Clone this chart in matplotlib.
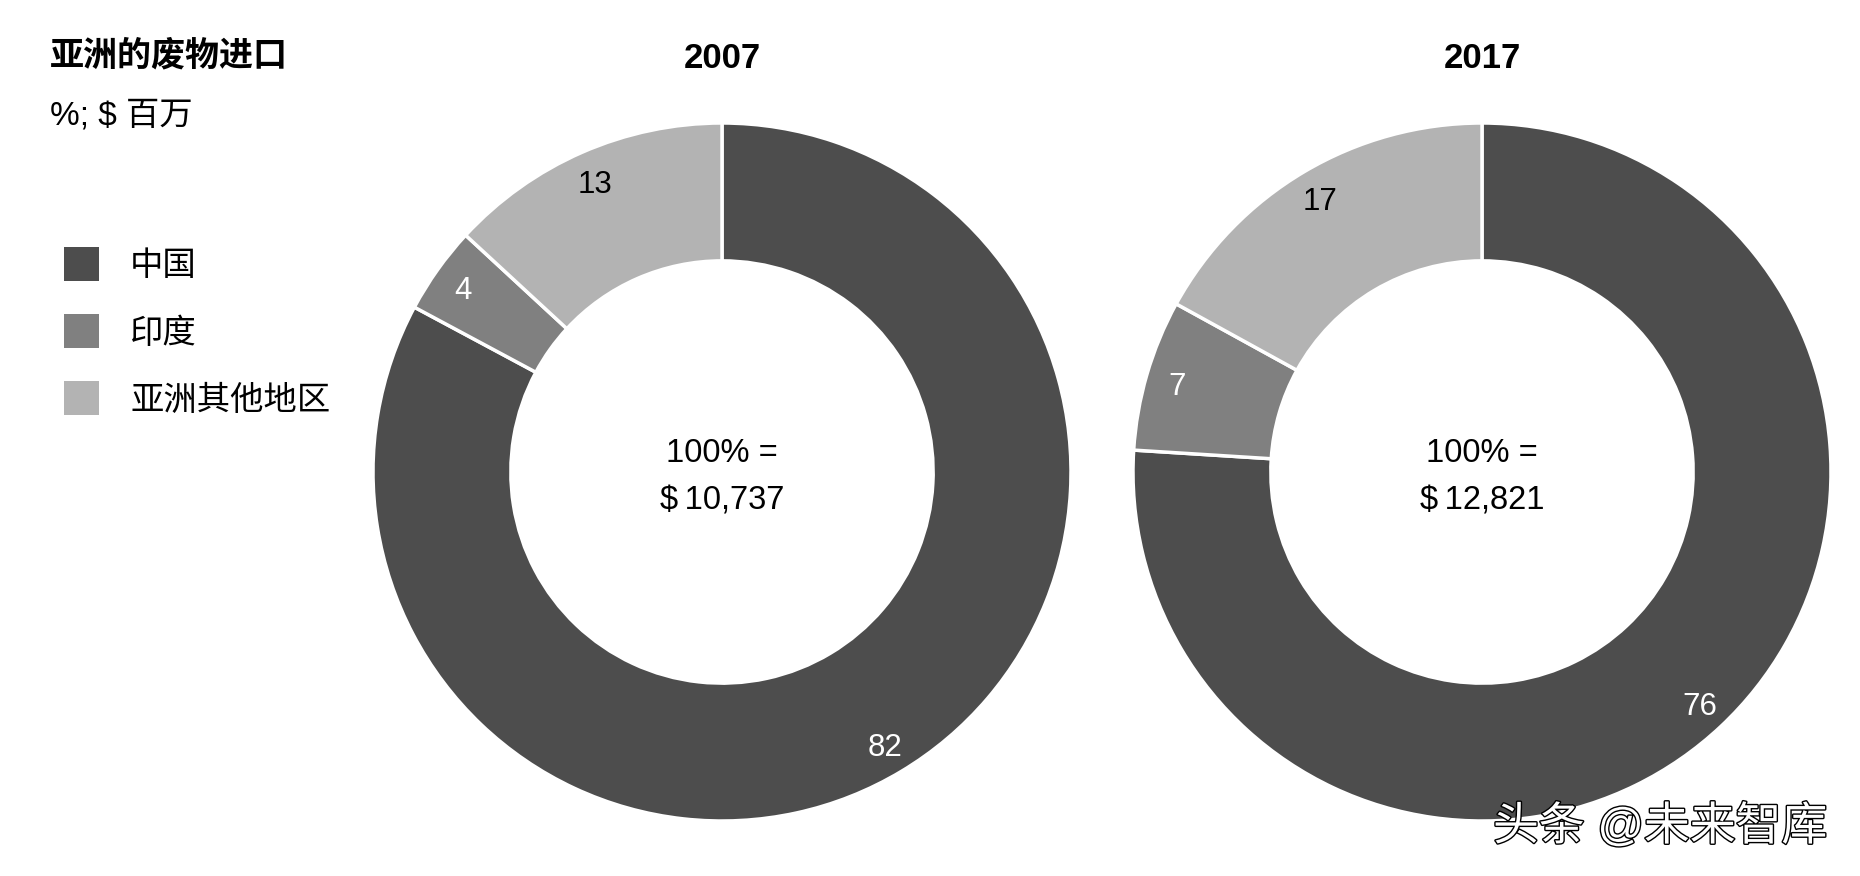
import matplotlib
matplotlib.use("Agg")
from matplotlib import pyplot as plt
import matplotlib.patheffects as pe

plt.rcParams['font.family'] = ['Liberation Sans', 'Noto Sans CJK SC', 'DejaVu Sans']

# data
regions = ["中国", "印度", "亚洲其他地区"]
colors = ["#4d4d4d", "#808080", "#b3b3b3"]
years = ["2007", "2017"]
shares = [[82, 4, 13], [76, 7, 17]]
totals = ["$\u200910,737", "$\u200912,821"]
label_colors = ["white", "white", "black"]

W, H = 1860, 876
fig = plt.figure(figsize=(W / 100, H / 100), dpi=100)

# donut centres in pixels (x, y from top), radius
centres = [(722, 472), (1482, 472)]
R = 349

for i in range(2):
    cx, cy = centres[i]
    ax = fig.add_axes([(cx - R) / W, (H - cy - R) / H, 2 * R / W, 2 * R / H])
    wedges, texts = ax.pie(shares[i], colors=colors, startangle=90, counterclock=False,
                           labels=[str(v) for v in shares[i]], labeldistance=0.91,
                           wedgeprops=dict(width=0.395, edgecolor="white", linewidth=2.5),
                           textprops=dict(fontsize=22.5))
    for t, c in zip(texts, label_colors):
        t.set_ha("center")
        t.set_va("center_baseline")
        t.set_color(c)
    ax.set_xlim(-1, 1)
    ax.set_ylim(-1, 1)
    ax.set_aspect("equal")
    ax.axis("off")
    ax.text(0, 1.186, years[i], ha="center", va="center", fontsize=25, fontweight="bold", clip_on=False)
    ax.text(0, 0.052, "100% =", ha="center", va="center", fontsize=23.5)
    ax.text(0, -0.083, totals[i], ha="center", va="center", fontsize=23.5)

# title
fig.text(50 / W, 1 - 56 / H, "亚洲的废物进口", ha="left", va="center", fontsize=24.5, fontweight="bold")
fig.text(50 / W, 1 - 116 / H, "%; $ 百万", ha="left", va="center", fontsize=24)

# legend
rows = [264, 331, 398]
for name, col, y in zip(regions, colors, rows):
    fig.patches.append(plt.Rectangle((64 / W, 1 - (y + 17) / H), 35 / W, 34 / H,
                                     transform=fig.transFigure, facecolor=col, edgecolor="none"))
    fig.text(130 / W, 1 - (y + 3) / H, name, ha="left", va="center", fontsize=24)

# watermark
fig.text(1493 / W, 1 - 827 / H, "头条 @未来智库", ha="left", va="center", fontsize=33,
         color="white", path_effects=[pe.withStroke(linewidth=2, foreground="black")])

plt.savefig("out.png", dpi=100)
